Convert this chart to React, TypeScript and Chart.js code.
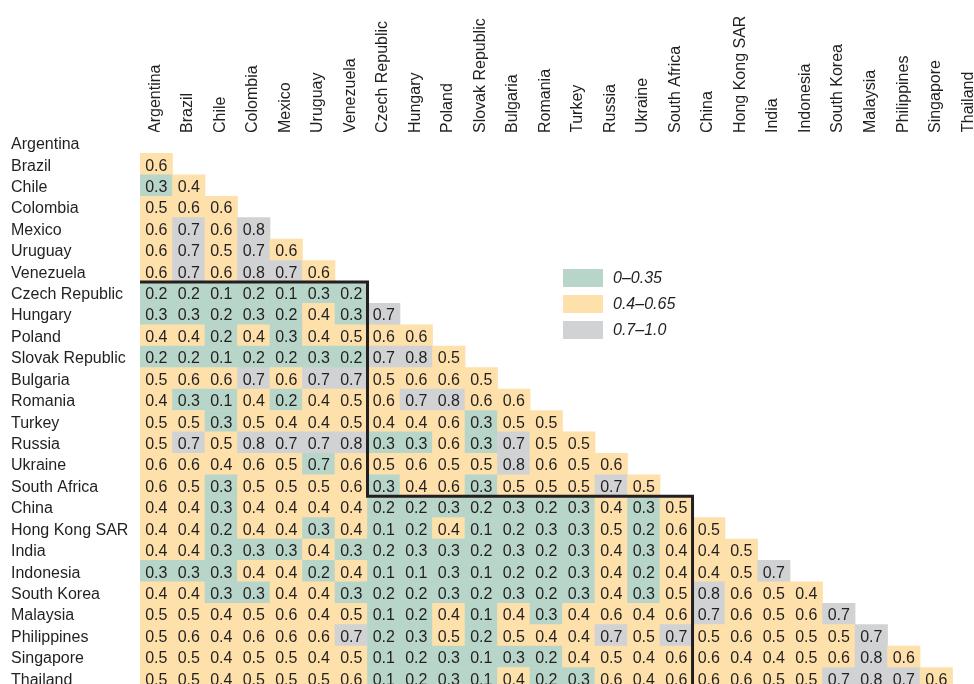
import React, { useEffect, useRef } from 'react';
import { Chart, registerables } from 'chart.js';

Chart.register(...registerables);

const countries = [
  'Argentina', 'Brazil', 'Chile', 'Colombia', 'Mexico', 'Uruguay', 'Venezuela',
  'Czech Republic', 'Hungary', 'Poland', 'Slovak Republic', 'Bulgaria', 'Romania',
  'Turkey', 'Russia', 'Ukraine', 'South Africa', 'China', 'Hong Kong SAR', 'India',
  'Indonesia', 'South Korea', 'Malaysia', 'Philippines', 'Singapore', 'Thailand',
];

// Lower triangle: row i holds correlations with columns 0..i-1
const lowerTriangle: number[][] = [
  [],
  [0.6],
  [0.3, 0.4],
  [0.5, 0.6, 0.6],
  [0.6, 0.7, 0.6, 0.8],
  [0.6, 0.7, 0.5, 0.7, 0.6],
  [0.6, 0.7, 0.6, 0.8, 0.7, 0.6],
  [0.2, 0.2, 0.1, 0.2, 0.1, 0.3, 0.2],
  [0.3, 0.3, 0.2, 0.3, 0.2, 0.4, 0.3, 0.7],
  [0.4, 0.4, 0.2, 0.4, 0.3, 0.4, 0.5, 0.6, 0.6],
  [0.2, 0.2, 0.1, 0.2, 0.2, 0.3, 0.2, 0.7, 0.8, 0.5],
  [0.5, 0.6, 0.6, 0.7, 0.6, 0.7, 0.7, 0.5, 0.6, 0.6, 0.5],
  [0.4, 0.3, 0.1, 0.4, 0.2, 0.4, 0.5, 0.6, 0.7, 0.8, 0.6, 0.6],
  [0.5, 0.5, 0.3, 0.5, 0.4, 0.4, 0.5, 0.4, 0.4, 0.6, 0.3, 0.5, 0.5],
  [0.5, 0.7, 0.5, 0.8, 0.7, 0.7, 0.8, 0.3, 0.3, 0.6, 0.3, 0.7, 0.5, 0.5],
  [0.6, 0.6, 0.4, 0.6, 0.5, 0.7, 0.6, 0.5, 0.6, 0.5, 0.5, 0.8, 0.6, 0.5, 0.6],
  [0.6, 0.5, 0.3, 0.5, 0.5, 0.5, 0.6, 0.3, 0.4, 0.6, 0.3, 0.5, 0.5, 0.5, 0.7, 0.5],
  [0.4, 0.4, 0.3, 0.4, 0.4, 0.4, 0.4, 0.2, 0.2, 0.3, 0.2, 0.3, 0.2, 0.3, 0.4, 0.3, 0.5],
  [0.4, 0.4, 0.2, 0.4, 0.4, 0.3, 0.4, 0.1, 0.2, 0.4, 0.1, 0.2, 0.3, 0.3, 0.5, 0.2, 0.6, 0.5],
  [0.4, 0.4, 0.3, 0.3, 0.3, 0.4, 0.3, 0.2, 0.3, 0.3, 0.2, 0.3, 0.2, 0.3, 0.4, 0.3, 0.4, 0.4, 0.5],
  [0.3, 0.3, 0.3, 0.4, 0.4, 0.2, 0.4, 0.1, 0.1, 0.3, 0.1, 0.2, 0.2, 0.3, 0.4, 0.2, 0.4, 0.4, 0.5, 0.7],
  [0.4, 0.4, 0.3, 0.3, 0.4, 0.4, 0.3, 0.2, 0.2, 0.3, 0.2, 0.3, 0.2, 0.3, 0.4, 0.3, 0.5, 0.8, 0.6, 0.5, 0.4],
  [0.5, 0.5, 0.4, 0.5, 0.6, 0.4, 0.5, 0.1, 0.2, 0.4, 0.1, 0.4, 0.3, 0.4, 0.6, 0.4, 0.6, 0.7, 0.6, 0.5, 0.6, 0.7],
  [0.5, 0.6, 0.4, 0.6, 0.6, 0.6, 0.7, 0.2, 0.3, 0.5, 0.2, 0.5, 0.4, 0.4, 0.7, 0.5, 0.7, 0.5, 0.6, 0.5, 0.5, 0.5, 0.7],
  [0.5, 0.5, 0.4, 0.5, 0.5, 0.4, 0.5, 0.1, 0.2, 0.3, 0.1, 0.3, 0.2, 0.4, 0.5, 0.4, 0.6, 0.6, 0.4, 0.4, 0.5, 0.6, 0.8, 0.6],
  [0.5, 0.5, 0.4, 0.5, 0.5, 0.5, 0.6, 0.1, 0.2, 0.3, 0.1, 0.4, 0.2, 0.3, 0.6, 0.4, 0.6, 0.6, 0.6, 0.5, 0.5, 0.7, 0.8, 0.7, 0.6],
];

const bandLabels = ['0\u20130.35', '0.4\u20130.65', '0.7\u20131.0'];
const bandUpper = [0.35, 0.65, 1.0];
const bandColors = ['#b8d5c9', '#fee0aa', '#d1d2d4'];
// cells whose shading in the source differs from their rounded value
const bandOverrides = [{ row: 'Ukraine', col: 'Uruguay', band: 0 }];
// region block boundaries (index where a new region starts)
const regionStarts = [7, 17];

const textColor = '#231f20';
const fontFamily = '"Liberation Sans", Arial, Helvetica, sans-serif';

type Cell = { x: [number, number]; y: number; v: number; band: number };

function bandOf(row: number, col: number, v: number): number {
  const ov = bandOverrides.find(
    (o) => countries.indexOf(o.row) === row && countries.indexOf(o.col) === col
  );
  if (ov) return ov.band;
  for (let b = 0; b < bandUpper.length; b++) if (v <= bandUpper[b] + 1e-9) return b;
  return bandUpper.length - 1;
}

const cells: Cell[] = [];
lowerTriangle.forEach((row, r) => {
  row.forEach((v, c) => {
    cells.push({ x: [c, c + 1], y: r + 0.5, v, band: bandOf(r, c, v) });
  });
});

const cellLabelPlugin = {
  id: 'cellLabels',
  afterDatasetsDraw(chart: any) {
    const meta = chart.getDatasetMeta(0);
    const ctx = chart.ctx;
    ctx.save();
    ctx.font = `16px ${fontFamily}`;
    ctx.fillStyle = textColor;
    ctx.textAlign = 'center';
    ctx.textBaseline = 'middle';
    meta.data.forEach((el: any, i: number) => {
      const p = el.getProps(['x', 'y', 'base'], true);
      ctx.fillText(cells[i].v.toFixed(1), (p.x + p.base) / 2, p.y + 2);
    });
    ctx.restore();
  },
};

const blockLinePlugin = {
  id: 'blockLines',
  afterDatasetsDraw(chart: any) {
    const xs = chart.scales.x;
    const ys = chart.scales.y;
    const ctx = chart.ctx;
    const [a, b] = regionStarts;
    const pts: [number, number][] = [
      [0, a], [a, a], [a, b], [b, b], [b, countries.length],
    ];
    ctx.save();
    ctx.strokeStyle = textColor;
    ctx.lineWidth = 3;
    ctx.lineJoin = 'miter';
    ctx.beginPath();
    pts.forEach(([cx, ry], i) => {
      const px = xs.getPixelForValue(cx);
      const py = ys.getPixelForValue(ry);
      if (i === 0) ctx.moveTo(px, py);
      else ctx.lineTo(px, py);
    });
    ctx.stroke();
    ctx.restore();
  },
};

const bandLegendPlugin = {
  id: 'bandLegend',
  afterDraw(chart: any) {
    const { left, top } = chart.chartArea;
    const ctx = chart.ctx;
    const x0 = left + 423;
    const y0 = top + 137;
    const step = 26;
    ctx.save();
    ctx.font = `italic 16px ${fontFamily}`;
    ctx.textAlign = 'left';
    ctx.textBaseline = 'middle';
    bandLabels.forEach((lab, i) => {
      const y = y0 + i * step;
      ctx.fillStyle = bandColors[i];
      ctx.fillRect(x0, y, 40, 18);
      ctx.fillStyle = textColor;
      ctx.fillText(lab, x0 + 50, y + 10);
    });
    ctx.restore();
  },
};

export default function App() {
  const ref = useRef<HTMLCanvasElement | null>(null);

  useEffect(() => {
    if (!ref.current) return;
    Chart.defaults.font.family = fontFamily;
    Chart.defaults.color = textColor;
    const chart = new Chart(ref.current, {
      type: 'bar',
      data: {
        datasets: [
          {
            data: cells as any,
            backgroundColor: cells.map((c) => bandColors[c.band]),
            borderWidth: 0,
            categoryPercentage: 1,
            barPercentage: 1,
            grouped: false,
          } as any,
        ],
      },
      options: {
        indexAxis: 'y',
        responsive: false,
        animation: false,
        events: [],
        layout: { padding: { left: 11, top: 0, right: 0, bottom: 0 } },
        plugins: {
          legend: { display: false },
          tooltip: { enabled: false },
        },
        scales: {
          x: {
            type: 'linear',
            position: 'top',
            offset: false,
            min: 0,
            max: 25.66,
            grid: { display: false, drawTicks: false, offset: false },
            border: { display: false },
            afterBuildTicks: (scale: any) => {
              scale.ticks = countries.map((_, i) => ({ value: i + 0.5 }));
            },
            afterFit: (scale: any) => {
              scale.height = 132;
              scale.paddingLeft = 0;
              scale.paddingRight = 0;
            },
            ticks: {
              autoSkip: false,
              minRotation: 90,
              maxRotation: 90,
              padding: -1,
              labelOffset: 18.5,
              font: { size: 16, family: fontFamily },
              color: textColor,
              callback: (_v: any, i: number) => countries[i],
            },
          },
          y: {
            type: 'linear',
            reverse: true,
            offset: false,
            min: 0,
            max: 25.77,
            grid: { display: false, drawTicks: false, offset: false },
            border: { display: false },
            afterBuildTicks: (scale: any) => {
              scale.ticks = countries.map((_, i) => ({ value: i + 0.5 }));
            },
            afterFit: (scale: any) => {
              scale.width = 129;
              scale.paddingTop = 0;
              scale.paddingBottom = 0;
            },
            ticks: {
              autoSkip: false,
              crossAlign: 'far',
              padding: 0,
              labelOffset: 2,
              font: { size: 16, family: fontFamily },
              color: textColor,
              callback: (_v: any, i: number) => countries[i],
            },
          },
        },
      } as any,
      plugins: [cellLabelPlugin, blockLinePlugin, bandLegendPlugin],
    });
    return () => chart.destroy();
  }, []);

  return (
    <div style={{ position: 'fixed', left: 0, top: 0, width: 974, height: 684, background: '#fff' }}>
      <canvas ref={ref} width={974} height={684} style={{ display: 'block' }} />
    </div>
  );
}
